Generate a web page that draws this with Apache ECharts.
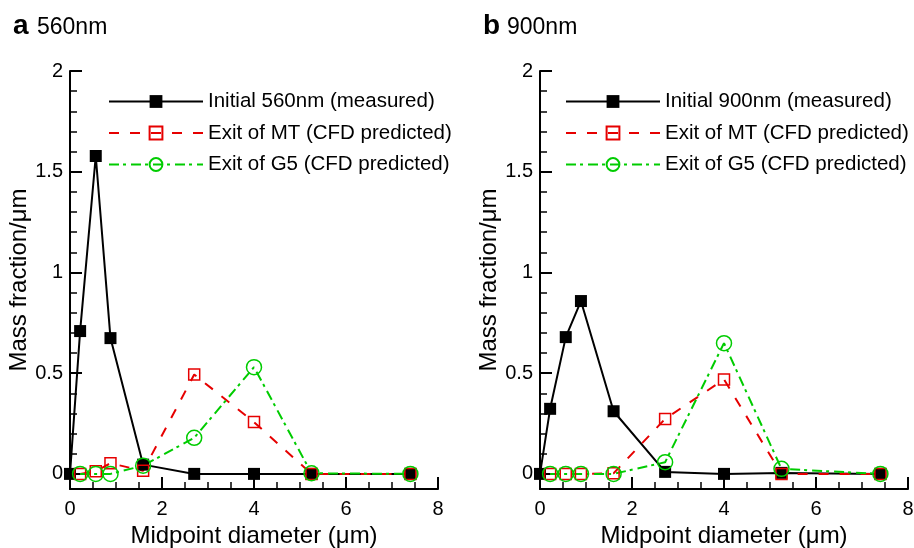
<!DOCTYPE html>
<html>
<head>
<meta charset="utf-8">
<script src="https://cdn.jsdelivr.net/npm/echarts@6/dist/echarts.min.js"></script>
<style>
  html, body { margin: 0; padding: 0; background: #fff; }
  #chart { width: 914px; height: 548px; }
</style>
</head>
<body>
<div id="chart"></div>
<script>
// midpoint diameters (um)
var diamA = [0, 0.22, 0.56, 0.88, 1.59, 2.7, 4.0, 5.25, 7.4]
var diamB = [0, 0.22, 0.56, 0.89, 1.6, 2.72, 4.0, 5.25, 7.4]

// panel a, 560nm
var initialA = [0, 0.709, 1.578, 0.674, 0.046, 0, 0, 0, 0]
var mtA = [null, 0, 0.013, 0.053, 0.015, 0.493, 0.257, 0, 0]
var g5A = [null, 0, 0, 0, 0.041, 0.179, 0.53, 0.003, 0]

// panel b, 900nm
var initialB = [0, 0.323, 0.679, 0.858, 0.311, 0.01, 0, 0.005, 0]
var mtB = [null, 0, 0, 0, 0.003, 0.273, 0.469, 0, 0]
var g5B = [null, 0, 0, 0, 0, 0.058, 0.649, 0.025, 0]

var yMajorTicks = [0, 0.5, 1, 1.5, 2]
var yMinorTicks = [0.1, 0.2, 0.3, 0.4, 0.6, 0.7, 0.8, 0.9, 1.1, 1.2, 1.3, 1.4, 1.6, 1.7, 1.8, 1.9]

var namesA = ['Initial 560nm (measured)', 'Exit of MT (CFD predicted)', 'Exit of G5 (CFD predicted)']
var namesB = ['Initial 900nm (measured)', 'Exit of MT (CFD predicted)', 'Exit of G5 (CFD predicted)']

var FONT = '"Liberation Sans", Arial, Helvetica, sans-serif'
var RED = '#e60000'
var GREEN = '#00cc00'

function pairs ( xs, ys ) {
  return xs.map( function ( x, i ) { return ys[ i ] == null ? null : [ x, ys[ i ] ] } ).filter( function ( p ) { return p } )
}

function xAxisOf ( gridIndex ) {
  return {
    type: 'value', gridIndex: gridIndex, min: 0, max: 8, interval: 2,
    name: 'Midpoint diameter (\u03bcm)', nameLocation: 'middle', nameGap: 26,
    nameTextStyle: { fontFamily: FONT, fontSize: 24, color: '#000' },
    axisLine: { onZero: false, lineStyle: { color: '#000', width: 2 } },
    axisTick: { inside: true, length: 12, lineStyle: { color: '#000', width: 2 } },
    minorTick: { show: true, splitNumber: 4, length: 7, lineStyle: { color: '#000', width: 1.5 } },
    axisLabel: { fontFamily: FONT, fontSize: 20, color: '#000', margin: 10 },
    splitLine: { show: false }
  }
}

function yAxesOf ( gridIndex ) {
  return [ {
    type: 'value', gridIndex: gridIndex, min: -0.075, max: 2, position: 'left',
    name: 'Mass fraction/\u03bcm', nameLocation: 'middle', nameGap: 36,
    nameTextStyle: { fontFamily: FONT, fontSize: 24, color: '#000' },
    axisLine: { show: true, lineStyle: { color: '#000', width: 2 } },
    axisTick: { inside: true, length: 12, customValues: yMajorTicks, lineStyle: { color: '#000', width: 2 } },
    axisLabel: { fontFamily: FONT, fontSize: 20, color: '#000', margin: 7, customValues: yMajorTicks },
    splitLine: { show: false }
  }, {
    type: 'value', gridIndex: gridIndex, min: -0.075, max: 2, position: 'left',
    axisLine: { show: false },
    axisTick: { inside: true, length: 7, customValues: yMinorTicks, lineStyle: { color: '#000', width: 1.5 } },
    axisLabel: { show: false },
    splitLine: { show: false }
  } ]
}

function seriesOf ( names, xs, initial, mt, g5, axis ) {
  return [ {
    name: names[ 0 ], type: 'line', xAxisIndex: axis, yAxisIndex: axis * 2,
    data: pairs( xs, initial ), clip: false,
    symbol: 'rect', symbolSize: 12,
    itemStyle: { color: '#000' },
    lineStyle: { color: '#000', width: 2 }
  }, {
    name: names[ 1 ], type: 'line', xAxisIndex: axis, yAxisIndex: axis * 2,
    data: pairs( xs, mt ), clip: false,
    symbol: 'rect', symbolSize: 11,
    itemStyle: { color: 'transparent', borderColor: RED, borderWidth: 1.5 },
    lineStyle: { color: RED, width: 2, type: [ 10, 11 ] }
  }, {
    name: names[ 2 ], type: 'line', xAxisIndex: axis, yAxisIndex: axis * 2,
    data: pairs( xs, g5 ), clip: false,
    symbol: 'circle', symbolSize: 15,
    itemStyle: { color: 'transparent', borderColor: GREEN, borderWidth: 1.5 },
    lineStyle: { color: GREEN, width: 2, type: [ 10, 4, 3, 5 ] }
  } ]
}

function legendOf ( names, left ) {
  return {
    orient: 'vertical', left: left, top: 91, padding: 0,
    itemWidth: 94, itemHeight: 16, itemGap: 10.5,
    selectedMode: false,
    textStyle: { fontFamily: FONT, fontSize: 20.5, color: '#000' },
    data: names
  }
}

// panel letter and panel label as two plain titles
function titlesOf ( letter, label, left ) {
  return [ {
    left: left, top: 7, text: letter,
    textStyle: { fontFamily: FONT, fontSize: 28, fontWeight: 'bold', color: '#000' }
  }, {
    left: left + 24, top: 11, text: label,
    textStyle: { fontFamily: FONT, fontSize: 23, fontWeight: 'normal', color: '#000' }
  } ]
}

var chart = echarts.init( document.getElementById( 'chart' ) )
chart.setOption( {
  animation: false,
  backgroundColor: '#fff',
  title: titlesOf( 'a', '560nm', 8 ).concat( titlesOf( 'b', '900nm', 478 ) ),
  legend: [ legendOf( namesA, 108 ), legendOf( namesB, 565 ) ],
  grid: [
    { left: 70, top: 71, width: 368, height: 418, outerBoundsMode: 'none', containLabel: false },
    { left: 540, top: 71, width: 368, height: 418, outerBoundsMode: 'none', containLabel: false }
  ],
  xAxis: [ xAxisOf( 0 ), xAxisOf( 1 ) ],
  yAxis: yAxesOf( 0 ).concat( yAxesOf( 1 ) ),
  series: seriesOf( namesA, diamA, initialA, mtA, g5A, 0 ).concat( seriesOf( namesB, diamB, initialB, mtB, g5B, 1 ) )
} )
</script>
</body>
</html>
